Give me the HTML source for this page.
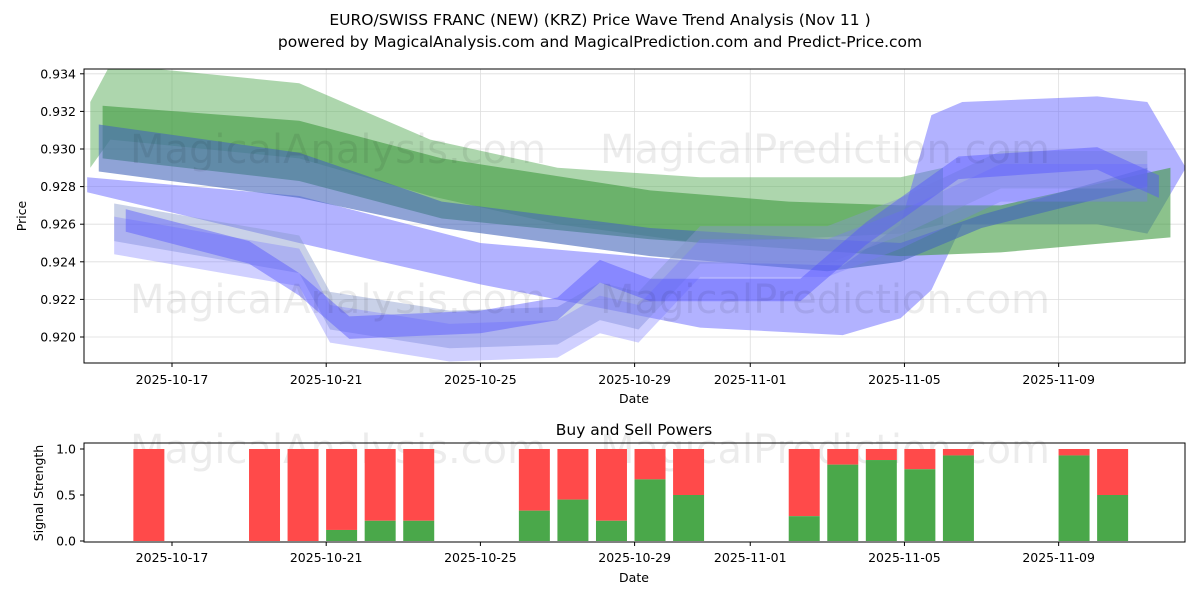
<!DOCTYPE html>
<html><head><meta charset="utf-8"><style>
body{margin:0;background:#fff;font-family:"Liberation Sans","DejaVu Sans",sans-serif}
svg text{font-family:"DejaVu Sans","Liberation Sans",sans-serif}
</style></head><body>
<svg id="c" width="1200" height="600">
<text x="600" y="25" font-size="15.5" text-anchor="middle">EURO/SWISS FRANC (NEW) (KRZ) Price Wave Trend Analysis (Nov 11 )</text>
<text x="600" y="47" font-size="15.5" text-anchor="middle">powered by MagicalAnalysis.com and MagicalPrediction.com and Predict-Price.com</text>
<defs><clipPath id="cp1"><rect x="84" y="69" width="1101" height="294"/></clipPath></defs>
<g id="grid1"></g>
<g id="bands" clip-path="url(#cp1)"></g>
<g font-size="40" fill="#000" opacity="0.07">
<text x="130" y="163">MagicalAnalysis.com</text><text x="600" y="163">MagicalPrediction.com</text>
<text x="130" y="313">MagicalAnalysis.com</text><text x="600" y="313">MagicalPrediction.com</text>
<text x="130" y="463">MagicalAnalysis.com</text><text x="600" y="463">MagicalPrediction.com</text>
</g>
<rect x="84" y="69" width="1101" height="294" fill="none" stroke="#000"/>
<g id="ax1"></g>
<text x="634" y="403" font-size="12.5" text-anchor="middle">Date</text>
<text x="26" y="216" font-size="12.5" text-anchor="middle" transform="rotate(-90 26 216)">Price</text>
<text x="634" y="435" font-size="15.5" text-anchor="middle">Buy and Sell Powers</text>
<g id="bars"></g>
<rect x="84" y="443" width="1101" height="99" fill="none" stroke="#000"/>
<g id="ax2"></g>
<text x="634" y="582" font-size="12.5" text-anchor="middle">Date</text>
<text x="43" y="493" font-size="12.5" text-anchor="middle" transform="rotate(-90 43 493)">Signal Strength</text>
</svg>
<script>
const xTickLabels=["2025-10-17","2025-10-21","2025-10-25","2025-10-29","2025-11-01","2025-11-05","2025-11-09"];
const xTickDays=[0,4,8,12,15,19,23];
const yTicks=[0.920,0.922,0.924,0.926,0.928,0.930,0.932,0.934];
const lgDays=[-2.12,-1.6,3.3,6.7,10,13.7,18.9,20];
const lgTop=[0.9325,0.9345,0.9335,0.9305,0.929,0.9285,0.9285,0.929];
const lgBot=[0.929,0.9305,0.9295,0.9275,0.926,0.925,0.9255,0.926];
const dgDays=[-1.8,3.3,7,12.4,16,18.9,21.5,25.9];
const dgTop=[0.9323,0.9315,0.9295,0.9278,0.9272,0.927,0.927,0.929];
const dgBot=[0.9295,0.9283,0.9263,0.9252,0.9247,0.9243,0.9245,0.9253];
const sbDays=[-1.9,3.3,7,12.4,17,18.9,21,25.3];
const sbTop=[0.9313,0.9298,0.9272,0.9258,0.9252,0.925,0.9265,0.929];
const sbBot=[0.9288,0.9274,0.9258,0.9243,0.9235,0.924,0.9258,0.928];
const lbDays=[-2.2,3.3,8,13.7,17.4,18.9,19.7,20.5,24,25.3,26.3];
const lbTop=[0.9285,0.9275,0.925,0.924,0.9238,0.926,0.9318,0.9325,0.9328,0.9325,0.929];
const lbBot=[0.9277,0.925,0.9228,0.9205,0.9201,0.921,0.9225,0.926,0.926,0.9255,0.929];
const wvDays=[-1.5,3.3,4.1,7.2,10,11.1,12.1,13.7,17,18.9,21.5,25.3];
const wvMid=[0.9262,0.9245,0.9215,0.9205,0.9207,0.922,0.9215,0.925,0.925,0.9265,0.929,0.929];
const dwDays=[-1.2,2,3.3,4.6,8,10,11.1,12.4,16.3,18,20.4,24,25.6];
const dwMid=[0.9262,0.9245,0.9228,0.9205,0.9208,0.9215,0.9235,0.9225,0.9225,0.9255,0.929,0.9295,0.928];
const barDays=[-0.6,2.4,3.4,4.4,5.4,6.4,9.4,10.4,11.4,12.4,13.4,16.4,17.4,18.4,19.4,20.4,23.4,24.4];
const buyVals=[0,0,0,0.12,0.22,0.22,0.33,0.45,0.22,0.67,0.5,0.27,0.83,0.88,0.78,0.93,0.93,0.5];
const NS="http://www.w3.org/2000/svg";
const X=d=>172+d*38.55;
const Y=v=>337-(v-0.920)/0.002*37.6;
const Y2=v=>541-v*92;
function mk(p,t,a){const e=document.createElementNS(NS,t);for(const k in a)e.setAttribute(k,a[k]);document.getElementById(p).appendChild(e);return e;}
xTickDays.forEach((d,i)=>{
 let g=mk('grid1','line',{x1:X(d),x2:X(d),y1:69,y2:363,stroke:'#ddd','stroke-width':0.8});
 
 
 mk('ax1','line',{x1:X(d),x2:X(d),y1:363,y2:367,stroke:'#000'});
 let t=mk('ax1','text',{x:X(d),y:384,'font-size':12.5,'text-anchor':'middle'});t.textContent=xTickLabels[i];
 
 
 mk('ax2','line',{x1:X(d),x2:X(d),y1:542,y2:546,stroke:'#000'});
 let t2=mk('ax2','text',{x:X(d),y:562,'font-size':12.5,'text-anchor':'middle'});t2.textContent=xTickLabels[i];
 
 
});
yTicks.forEach(v=>{
 let g=mk('grid1','line',{x1:84,x2:1185,y1:Y(v),y2:Y(v),stroke:'#ddd','stroke-width':0.8});
 
 
 mk('ax1','line',{x1:80,x2:84,y1:Y(v),y2:Y(v),stroke:'#000'});
 let t=mk('ax1','text',{x:76,y:Y(v)+4.5,'font-size':12.5,'text-anchor':'end'});t.textContent=v.toFixed(3);
 
 
});
[0,0.5,1].forEach(v=>{
 mk('ax2','line',{x1:80,x2:84,y1:Y2(v),y2:Y2(v),stroke:'#000'});
 let t=mk('ax2','text',{x:76,y:Y2(v)+4.5,'font-size':12.5,'text-anchor':'end'});t.textContent=v.toFixed(1);
 
 
});
function band(days,top,bot,fill,op,name){
 let pts=days.map((d,i)=>X(d)+','+Y(top[i]));
 for(let i=days.length-1;i>=0;i--)pts.push(X(days[i])+','+Y(bot[i]));
 let p=mk('bands','polygon',{points:pts.join(' '),fill:fill,opacity:op});
 
 
}
band(lgDays,lgTop,lgBot,'#5cad5c',0.5,'light-green-band');
band(lbDays,lbTop,lbBot,'#6666ff',0.5,'wide-blue-band');
band(dgDays,dgTop,dgBot,'#3f9a3f',0.6,'green-band');
band(sbDays,sbTop,sbBot,'#4466bb',0.6,'slate-blue-band');
band(wvDays,wvMid.map(v=>v+0.0009),wvMid.map(v=>v-0.0011),'#8899cc',0.45,'gray-wave-band');
band(wvDays,wvMid.map(v=>v+0.0002),wvMid.map(v=>v-0.0018),'#7777ff',0.35,'light-blue-wave-band');
band(dwDays,dwMid.map(v=>v+0.0006),dwMid.map(v=>v-0.0006),'#5555ff',0.45,'blue-wave-band');
barDays.forEach((d,i)=>{
 const x=X(d)-15.5,w=31;
 let r=mk('bars','rect',{x:x,y:Y2(1),width:w,height:Y2(buyVals[i])-Y2(1),fill:'#ff4a4a'});
 
 
 let g=mk('bars','rect',{x:x,y:Y2(buyVals[i]),width:w,height:Y2(0)-Y2(buyVals[i]),fill:'#4aa84a'});
 
 
});
</script>
</body></html>
